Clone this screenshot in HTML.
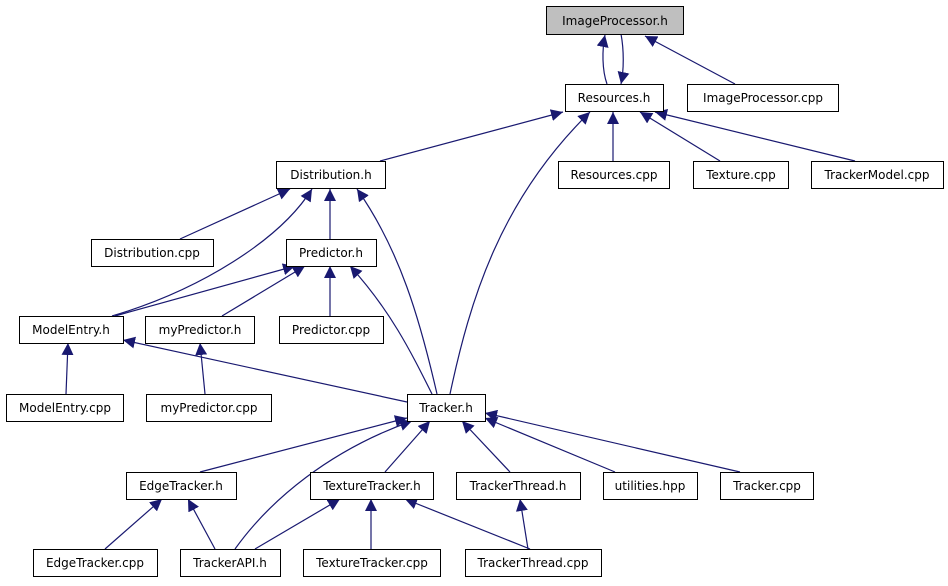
<!DOCTYPE html>
<html><head><meta charset="utf-8"><style>
html,body{margin:0;padding:0;background:#fff;}
text{font-family:"DejaVu Sans","Liberation Sans",sans-serif;font-size:12px;fill:#000;}
</style></head><body>
<svg width="948" height="581" viewBox="0 0 948 581" xmlns="http://www.w3.org/2000/svg">
<defs><marker id="a" viewBox="0 0 10 10" refX="10" refY="5" markerWidth="12" markerHeight="12" markerUnits="userSpaceOnUse" orient="auto"><path d="M0,0L10,5L0,10z" fill="#191970"/></marker></defs>
<g stroke="#191970" stroke-width="1.2" fill="none" marker-end="url(#a)">
<path d="M607,84C602,70 602,50 605,35"/>
<path d="M621,34C624,50 624,70 621,84"/>
<path d="M735,84L645,36"/>
<path d="M380,161L563,112"/>
<path d="M450,394C470,300 500,200 590,112"/>
<path d="M613,161L613,112"/>
<path d="M720,161L640,112"/>
<path d="M855,161L655,112"/>
<path d="M180,239L290,189"/>
<path d="M112,316C200,290 280,240 312,189"/>
<path d="M330,239L330,189"/>
<path d="M437,394C420,320 400,250 357,189"/>
<path d="M115,316L295,266"/>
<path d="M222,316L305,266"/>
<path d="M330,316L330,266"/>
<path d="M432,394C410,350 390,310 350,266"/>
<path d="M66,394L68,343"/>
<path d="M407,402L123,340"/>
<path d="M205,394L200,343"/>
<path d="M200,472L407,418"/>
<path d="M235,549C270,500 330,450 412,421"/>
<path d="M385,472L430,421"/>
<path d="M510,472L462,421"/>
<path d="M615,472L485,418"/>
<path d="M740,472L485,413"/>
<path d="M105,549L162,499"/>
<path d="M215,549L188,499"/>
<path d="M255,549L340,499"/>
<path d="M371,549L371,499"/>
<path d="M530,549L405,499"/>
<path d="M528,549L520,499"/>
</g>
<g stroke="#000" stroke-width="1" fill="#fff">
<rect x="546.5" y="6.5" width="137" height="28" fill="#bfbfbf"/>
<rect x="565.5" y="84.5" width="98" height="27"/>
<rect x="687.5" y="84.5" width="151" height="27"/>
<rect x="276.5" y="161.5" width="109" height="27"/>
<rect x="558.5" y="161.5" width="111" height="27"/>
<rect x="693.5" y="161.5" width="95" height="27"/>
<rect x="811.5" y="161.5" width="132" height="27"/>
<rect x="91.5" y="239.5" width="122" height="27"/>
<rect x="286.5" y="239.5" width="90" height="27"/>
<rect x="19.5" y="316.5" width="104" height="27"/>
<rect x="145.5" y="316.5" width="109" height="27"/>
<rect x="279.5" y="316.5" width="104" height="27"/>
<rect x="6.5" y="394.5" width="117" height="27"/>
<rect x="146.5" y="394.5" width="125" height="27"/>
<rect x="407.5" y="394.5" width="78" height="27"/>
<rect x="126.5" y="472.5" width="110" height="27"/>
<rect x="310.5" y="472.5" width="123" height="27"/>
<rect x="456.5" y="472.5" width="124" height="27"/>
<rect x="603.5" y="472.5" width="94" height="27"/>
<rect x="720.5" y="472.5" width="93" height="27"/>
<rect x="33.5" y="549.5" width="124" height="27"/>
<rect x="180.5" y="549.5" width="100" height="27"/>
<rect x="303.5" y="549.5" width="137" height="27"/>
<rect x="465.5" y="549.5" width="136" height="27"/>
</g>
<g text-anchor="middle">
<text x="615" y="25">ImageProcessor.h</text>
<text x="614" y="102">Resources.h</text>
<text x="763" y="102">ImageProcessor.cpp</text>
<text x="331" y="179">Distribution.h</text>
<text x="614" y="179">Resources.cpp</text>
<text x="741" y="179">Texture.cpp</text>
<text x="877" y="179">TrackerModel.cpp</text>
<text x="152" y="257">Distribution.cpp</text>
<text x="331" y="257">Predictor.h</text>
<text x="71" y="334">ModelEntry.h</text>
<text x="200" y="334">myPredictor.h</text>
<text x="331" y="334">Predictor.cpp</text>
<text x="65" y="412">ModelEntry.cpp</text>
<text x="209" y="412">myPredictor.cpp</text>
<text x="446" y="412">Tracker.h</text>
<text x="181" y="490">EdgeTracker.h</text>
<text x="372" y="490">TextureTracker.h</text>
<text x="518" y="490">TrackerThread.h</text>
<text x="650" y="490">utilities.hpp</text>
<text x="767" y="490">Tracker.cpp</text>
<text x="95" y="567">EdgeTracker.cpp</text>
<text x="230" y="567">TrackerAPI.h</text>
<text x="372" y="567">TextureTracker.cpp</text>
<text x="533" y="567">TrackerThread.cpp</text>
</g>
</svg>
</body></html>
